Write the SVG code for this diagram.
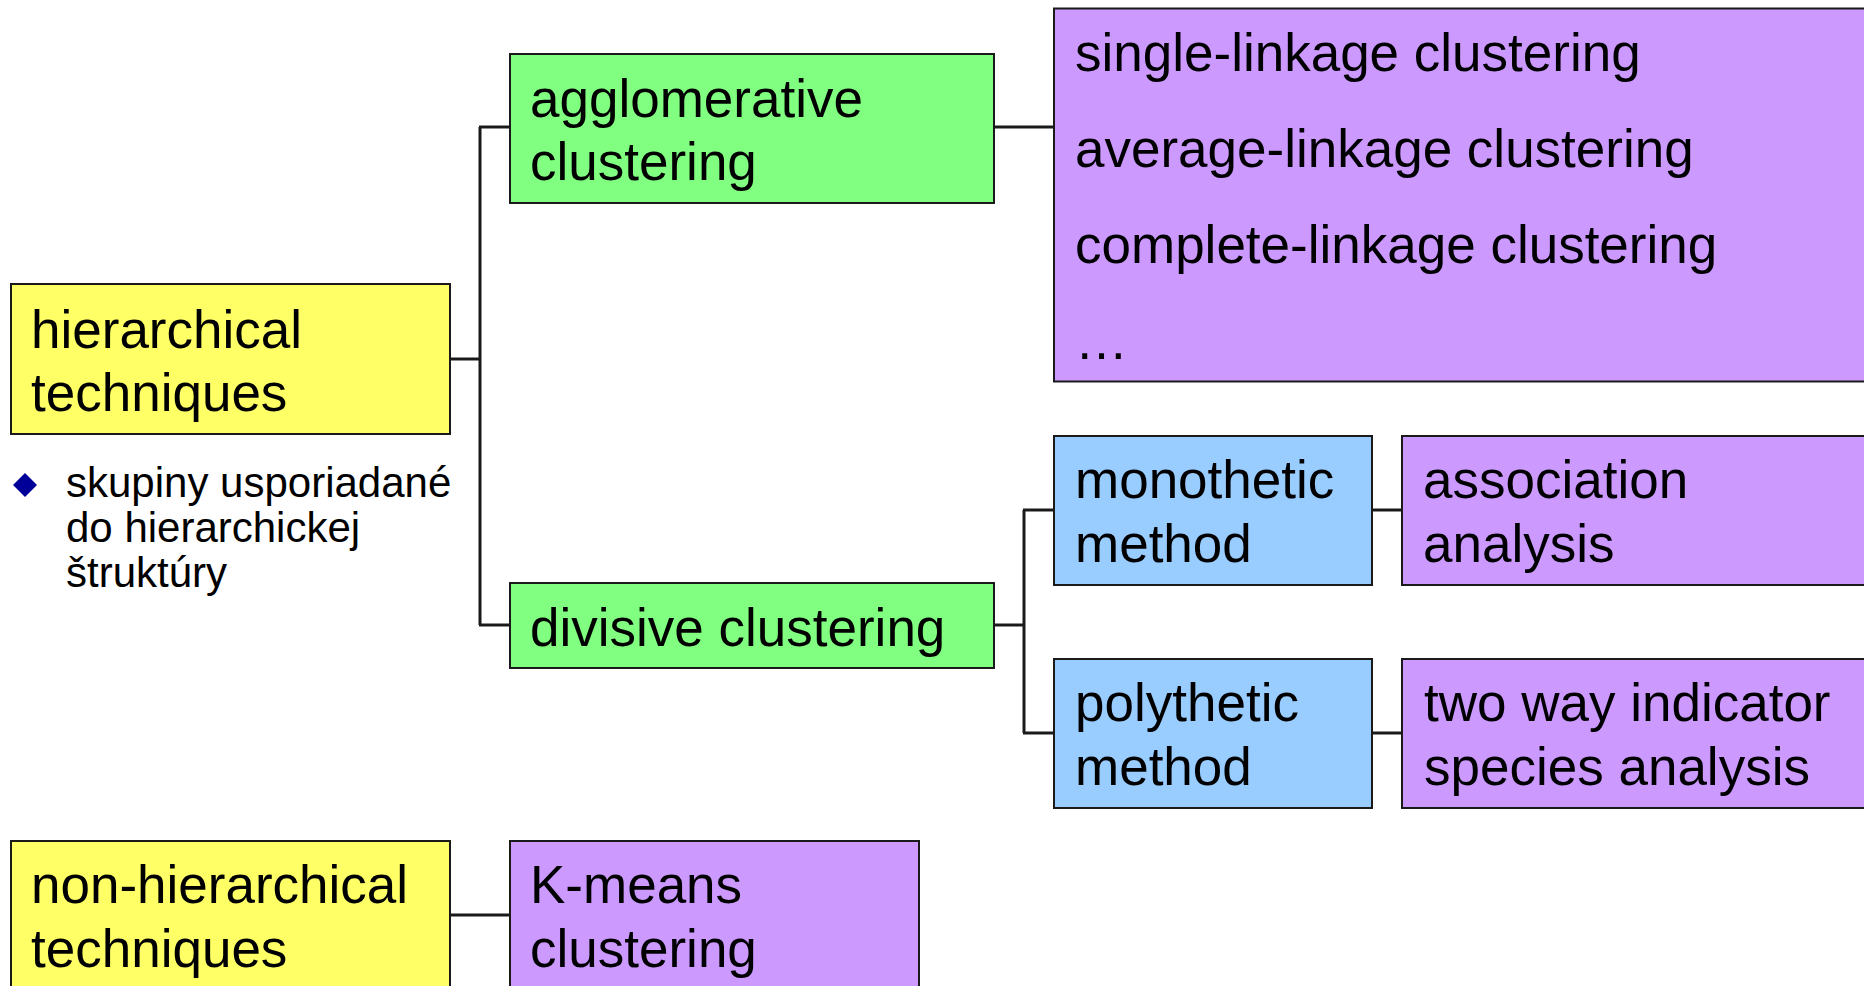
<svg xmlns="http://www.w3.org/2000/svg" width="1864" height="986" viewBox="0 0 1864 986">
<style>
.box{stroke:#1a1a1a;stroke-width:2}
.yellow{fill:#FFFF66}
.green{fill:#80FF80}
.purple{fill:#CC99FF}
.blue{fill:#99CCFF}
.t{font-family:"Liberation Sans",Arial,sans-serif;font-size:53px;fill:#000}
.b{font-family:"Liberation Sans",Arial,sans-serif;font-size:42px;fill:#000}
.conn line{stroke:#1a1a1a;stroke-width:3}
</style>
<rect width="1864" height="986" fill="#fff"/>
<g id="connectors" class="conn">
<line x1="450" y1="359" x2="480" y2="359"/>
<line x1="480" y1="127" x2="480" y2="625"/>
<line x1="479" y1="127" x2="510" y2="127"/>
<line x1="479" y1="625" x2="510" y2="625"/>
<line x1="994" y1="127" x2="1054" y2="127"/>
<line x1="994" y1="625" x2="1024" y2="625"/>
<line x1="1024" y1="510" x2="1024" y2="733"/>
<line x1="1023" y1="510" x2="1054" y2="510"/>
<line x1="1023" y1="733" x2="1054" y2="733"/>
<line x1="1372" y1="510" x2="1402" y2="510"/>
<line x1="1372" y1="733" x2="1402" y2="733"/>
<line x1="450" y1="915" x2="510" y2="915"/>
</g>
<g id="hierarchical">
<rect class="box yellow" x="11" y="284" width="439" height="150"/>
<text class="t" x="31" y="348">hierarchical</text>
<text class="t" x="31" y="411">techniques</text>
</g>
<g id="bullet-note">
<path d="M25 473 L37 485 L25 497 L13 485 Z" fill="#000099"/>
<text class="b" x="66" y="497">skupiny usporiadané</text>
<text class="b" x="66" y="542">do hierarchickej</text>
<text class="b" x="66" y="587">štruktúry</text>
</g>
<g id="agglomerative">
<rect class="box green" x="510" y="54" width="484" height="149"/>
<text class="t" x="530" y="117">agglomerative</text>
<text class="t" x="530" y="180">clustering</text>
</g>
<g id="linkage">
<rect class="box purple" x="1054" y="8.5" width="830" height="373"/>
<text class="t" x="1075" y="71">single-linkage clustering</text>
<text class="t" x="1075" y="167">average-linkage clustering</text>
<text class="t" x="1075" y="263">complete-linkage clustering</text>
<text class="t" x="1075" y="359">…</text>
</g>
<g id="divisive">
<rect class="box green" x="510" y="583" width="484" height="85"/>
<text class="t" x="530" y="646">divisive clustering</text>
</g>
<g id="monothetic">
<rect class="box blue" x="1054" y="436" width="318" height="149"/>
<text class="t" x="1075" y="498">monothetic</text>
<text class="t" x="1075" y="562">method</text>
</g>
<g id="association">
<rect class="box purple" x="1402" y="436" width="480" height="149"/>
<text class="t" x="1423" y="498">association</text>
<text class="t" x="1423" y="562">analysis</text>
</g>
<g id="polythetic">
<rect class="box blue" x="1054" y="659" width="318" height="149"/>
<text class="t" x="1075" y="721">polythetic</text>
<text class="t" x="1075" y="785">method</text>
</g>
<g id="twoway">
<rect class="box purple" x="1402" y="659" width="480" height="149"/>
<text class="t" x="1424" y="721">two way indicator</text>
<text class="t" x="1424" y="785">species analysis</text>
</g>
<g id="nonhierarchical">
<rect class="box yellow" x="11" y="841" width="439" height="170"/>
<text class="t" x="31" y="903">non-hierarchical</text>
<text class="t" x="31" y="967">techniques</text>
</g>
<g id="kmeans">
<rect class="box purple" x="510" y="841" width="409" height="170"/>
<text class="t" x="530" y="903">K-means</text>
<text class="t" x="530" y="967">clustering</text>
</g>
</svg>
